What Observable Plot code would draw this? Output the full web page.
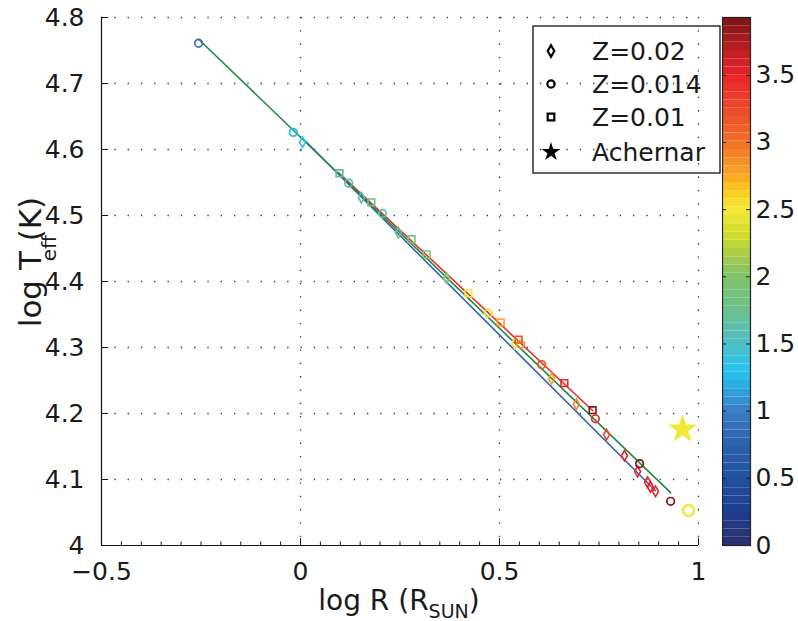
<!DOCTYPE html>
<html><head><meta charset="utf-8">
<script src="https://cdn.jsdelivr.net/npm/d3@7"></script>
<script src="https://cdn.jsdelivr.net/npm/@observablehq/plot@0.6"></script>
<style>
body{margin:0;background:#fff;}
#wrap{position:relative;width:798px;height:621px;font-family:"DejaVu Sans",sans-serif;color:#1a1a1a;overflow:hidden;}
#wrap > svg, #wrap > div{position:absolute;}
#xlabel{left:0;width:798px;text-align:center;top:587px;font-size:28px;line-height:28px;}
#xlabel sub{font-size:19px;vertical-align:-8px;line-height:0;}
#ylabel{left:30px;top:262px;transform:translate(-50%,-50%) rotate(-90deg);font-size:31px;white-space:nowrap;line-height:31px;}
#ylabel .sub{position:absolute;left:66px;top:19px;font-size:20px;}
</style></head><body><div id="wrap"></div>
<script>
// ---- data ----
// Z=0.02 (diamonds)
const dX = [0.005, 0.153, 0.246, 0.367, 0.538, 0.631, 0.693, 0.769, 0.814, 0.847, 0.872, 0.879, 0.892];
const dY = [4.611, 4.527, 4.474, 4.405, 4.306, 4.253, 4.214, 4.168, 4.136, 4.112, 4.096, 4.089, 4.082];
const dC = [1.3, 1.6, 1.7, 2.0, 2.45, 2.8, 2.9, 3.3, 3.5, 3.5, 3.5, 3.5, 3.5];
// Z=0.014 (circles)
const cX = [-0.256, -0.018, 0.121, 0.206, 0.472, 0.553, 0.606, 0.741, 0.852, 0.930];
const cY = [4.761, 4.626, 4.549, 4.503, 4.352, 4.305, 4.274, 4.192, 4.124, 4.067];
const cC = [0.9, 1.25, 1.55, 1.65, 2.55, 2.85, 3.15, 3.45, 3.9, 3.9];
// Z=0.01 (squares)
const sX = [0.098, 0.178, 0.279, 0.317, 0.422, 0.503, 0.548, 0.663, 0.734];
const sY = [4.564, 4.520, 4.464, 4.441, 4.382, 4.338, 4.312, 4.246, 4.205];
const sC = [1.55, 1.75, 1.9, 2.0, 2.5, 2.8, 3.2, 3.5, 3.9];
// large open circle and Achernar star
const bigX = [0.975], bigY = [4.053], bigC = [2.5];
const starX = [0.960], starY = [4.176], starC = [2.5];
// fitted lines (endpoints)
const lineBlueX = [0.005, 0.892], lineBlueY = [4.617, 4.083];
const lineGreenX = [-0.256, 0.930], lineGreenY = [4.767, 4.080];
const lineRedX = [0.0955, 0.734], lineRedY = [4.565, 4.2045];
// ticks
const xTicks = [-0.5, 0, 0.5, 1];
const xTickLabels = ["\u22120.5", "0", "0.5", "1"];
const yTicks = [4, 4.1, 4.2, 4.3, 4.4, 4.5, 4.6, 4.7, 4.8];
const yTickLabels = ["4", "4.1", "4.2", "4.3", "4.4", "4.5", "4.6", "4.7", "4.8"];
const cbTicks = [0, 0.5, 1, 1.5, 2, 2.5, 3, 3.5];
const cbTickLabels = ["0", "0.5", "1", "1.5", "2", "2.5", "3", "3.5"];
const cbMax = 3.93;
const legendLabels = ["Z=0.02", "Z=0.014", "Z=0.01", "Achernar"];
const legendSymbols = ["diamond", "circle", "square", "star"];
// colormap
const cDomain = [0, 0.25, 0.5, 0.75, 1.0, 1.15, 1.3, 1.5, 1.75, 2.0, 2.15, 2.3, 2.5, 2.62, 2.75, 3.0, 3.25, 3.5, 3.7, 3.93];
const cRange = ["#2b2e6e","#1f3d8f","#2250a0","#2c62ab","#3a7dc2","#2ea3dc","#27c5f0","#4fbec6","#6cc08f","#82c26a","#a5c94a","#cfdc2c","#f3e838","#fdd01f","#f9a925","#f2702a","#ee4a2b","#e8232a","#b81f24","#7a1416"];

const zip = (X, Y, C) => X.map((x, i) => ({x, y: Y[i], c: C[i]}));
const diamonds = zip(dX, dY, dC), circles = zip(cX, cY, cC), squares = zip(sX, sY, sC);
const big = zip(bigX, bigY, bigC), star = zip(starX, starY, starC);
const lineOf = (X, Y) => X.map((x, i) => ({x, y: Y[i]}));

const W = 798, H = 621, mL = 101, mR = 100, mT = 17, mB = 76;
const innerW = W - mL - mR, innerH = H - mT - mB;
const colorOpt = {type: "linear", domain: cDomain, range: cRange, clamp: true};
const font = '"DejaVu Sans", sans-serif';
const minorX = d3.range(-0.45, 1.0, 0.05).map(v => +v.toFixed(2)).filter(v => !xTicks.includes(v));

const main = Plot.plot({
  width: W, height: H, marginLeft: mL, marginRight: mR, marginTop: mT, marginBottom: mB,
  style: {fontFamily: font, fontSize: "25px", background: "transparent", color: "#1a1a1a"},
  x: {domain: [-0.5, 1]},
  y: {domain: [4, 4.8]},
  color: colorOpt,
  marks: [
    Plot.ruleX(xTicks.slice(1), {stroke: "#333", strokeDasharray: "1.3,12", strokeWidth: 1.3}),
    Plot.ruleY(yTicks.slice(1), {stroke: "#333", strokeDasharray: "1.3,12", strokeWidth: 1.3}),
    Plot.ruleX([xTicks[0]], {stroke: "#111", strokeWidth: 1.2}),
    Plot.ruleY([yTicks[0]], {stroke: "#111", strokeWidth: 1.2}),
    Plot.tickX(xTicks, {x: d => d, insetTop: innerH - 7, stroke: "#111"}),
    Plot.tickX(minorX, {x: d => d, insetTop: innerH - 3.5, stroke: "#111"}),
    Plot.tickY(yTicks, {y: d => d, insetRight: innerW - 7, stroke: "#111"}),
    Plot.axisX({ticks: xTicks, tickSize: 0, tickPadding: 17, tickFormat: d => xTickLabels[xTicks.indexOf(d)], label: null, fontSize: 25}),
    Plot.axisY({ticks: yTicks, tickSize: 0, tickPadding: 17, tickFormat: d => yTickLabels[yTicks.findIndex(t => Math.abs(t - d) < 1e-9)], label: null, fontSize: 25}),
    Plot.line(lineOf(lineBlueX, lineBlueY), {x: "x", y: "y", stroke: "#3261ab", strokeWidth: 1.6}),
    Plot.line(lineOf(lineRedX, lineRedY), {x: "x", y: "y", stroke: "#e8312b", strokeWidth: 1.6}),
    Plot.line(lineOf(lineGreenX, lineGreenY), {x: "x", y: "y", stroke: "#1f8a3e", strokeWidth: 1.6}),
    Plot.dot(diamonds, {x: "x", y: "y", stroke: "c", symbol: "diamond", r: 3.2, strokeWidth: 1.6}),
    Plot.dot(circles, {x: "x", y: "y", stroke: "c", symbol: "circle", r: 3.8, strokeWidth: 1.7}),
    Plot.dot(squares, {x: "x", y: "y", stroke: "c", symbol: "square", r: 3.8, strokeWidth: 1.6}),
    Plot.dot(big, {x: "x", y: "y", stroke: "c", symbol: "circle", r: 5.5, strokeWidth: 2.6}),
    Plot.dot(star, {x: "x", y: "y", fill: "c", symbol: "star", r: 9.2})
  ]
});
main.style.left = "0px"; main.style.top = "0px";

// colorbar
const nBands = 64;
const bands = d3.range(nBands).map(i => ({lo: i * cbMax / nBands, hi: (i + 1) * cbMax / nBands, mid: (i + 0.5) * cbMax / nBands}));
const cb = Plot.plot({
  width: 76, height: H, marginLeft: 0, marginRight: 48, marginTop: mT, marginBottom: mB,
  style: {fontFamily: font, fontSize: "25px", background: "transparent", color: "#1a1a1a"},
  x: {domain: [0, 1], axis: null},
  y: {domain: [0, cbMax], axis: null},
  color: colorOpt,
  marks: [
    Plot.rect(bands, {x1: 0, x2: 1, y1: "lo", y2: "hi", fill: "mid"}),
    Plot.frame({stroke: "#222", strokeWidth: 1.2}),
    Plot.tickY(cbTicks, {y: d => d, insetRight: 24, stroke: "#222"}),
    Plot.tickY(cbTicks, {y: d => d, insetLeft: 24, stroke: "#222"}),
    Plot.axisY({anchor: "right", ticks: cbTicks, tickSize: 0, tickPadding: 5, tickFormat: d => cbTickLabels[cbTicks.indexOf(d)], label: null, fontSize: 25})
  ]
});
cb.style.left = "722px"; cb.style.top = "0px";

const wrap = document.getElementById("wrap");
wrap.appendChild(main);
wrap.appendChild(cb);

// legend
const lg = d3.create("svg").attr("width", 190).attr("height", 150)
  .style("left", "532px").style("top", "25px");
lg.append("rect").attr("x", 1).attr("y", 1).attr("width", 187).attr("height", 147)
  .attr("fill", "none").attr("stroke", "#111").attr("stroke-width", 1.3);
const symMap = {diamond: [d3.symbolDiamond, 38], circle: [d3.symbolCircle, 42], square: [d3.symbolSquare, 44], star: [d3.symbolStar, 110]};
const rowsY = [26, 59, 92, 127];
legendLabels.forEach((lab, i) => {
  const s = legendSymbols[i];
  const [type, size] = symMap[s];
  lg.append("path").attr("d", d3.symbol(type, size)())
    .attr("transform", `translate(19,${rowsY[i]})`)
    .attr("fill", s === "star" ? "#000" : "none").attr("stroke", s === "star" ? "none" : "#000").attr("stroke-width", 2.2);
  lg.append("text").attr("x", 60).attr("y", rowsY[i]).attr("dy", "0.36em")
    .attr("font-family", font).attr("font-size", 25).attr("fill", "#1a1a1a").text(lab);
});
wrap.appendChild(lg.node());

// axis labels
const xl = document.createElement("div");
xl.id = "xlabel";
xl.innerHTML = "log R (R<sub>SUN</sub>)";
wrap.appendChild(xl);
const yl = document.createElement("div");
yl.id = "ylabel";
yl.innerHTML = "log T (K)<span class='sub'>eff</span>";
wrap.appendChild(yl);
</script>
</body></html>
